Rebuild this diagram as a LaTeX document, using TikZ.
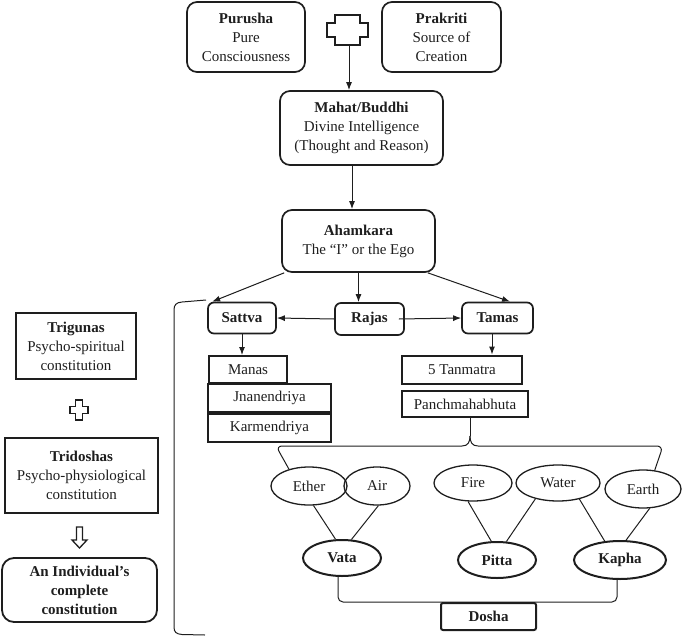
\documentclass[tikz,border=0pt]{standalone}
\usepackage{fontspec}
\setmainfont{Liberation Serif}
\usetikzlibrary{shapes.geometric,arrows.meta,calc}
\definecolor{ink}{HTML}{1E1E1E}
\begin{document}
\begin{tikzpicture}[x=1pt,y=-1pt,
  txt/.style={font=\fontsize{15}{19}\selectfont, align=center, inner sep=0pt, text=ink},
  rbox/.style={txt, draw=ink, line width=1.7pt, rounded corners=10pt},
  tbox/.style={txt, draw=ink, line width=1.7pt, rounded corners=6pt},
  sbox/.style={txt, draw=ink, line width=2pt},
  ell/.style={txt, draw=ink, ellipse, line width=1.3pt},
  bell/.style={txt, draw=ink, ellipse, line width=2pt, font=\fontsize{15}{19}\selectfont\bfseries},
  arr/.style={draw=ink, line width=1pt, -{Latex[length=8pt,width=6pt]}},
  ln/.style={draw=ink, line width=1pt},
  outl/.style={draw=ink, line width=1.3pt, line join=miter},
]
\useasboundingbox (0,0) rectangle (685,637);

% top row
\node[rbox, minimum width=118pt, minimum height=70pt] (purusha) at (246,37) {\textbf{Purusha}\\Pure\\Consciousness};
\node[rbox, minimum width=119pt, minimum height=70pt] (prakriti) at (441.5,37) {\textbf{Prakriti}\\Source of\\Creation};
\coordinate (plus) at (347.5,30);
\begin{scope}[shift={(plus)}]
  \draw[outl] (-12.5,-15) -- (12.5,-15) -- (12.5,-7) -- (20.5,-7) -- (20.5,7) -- (12.5,7) -- (12.5,15) -- (-12.5,15) -- (-12.5,7) -- (-20.5,7) -- (-20.5,-7) -- (-12.5,-7) -- cycle;
\end{scope}
\coordinate (plusbot) at (349,45);

\node[rbox, minimum width=163pt, minimum height=74pt] (mahat) at (361.5,128) {\textbf{Mahat/Buddhi}\\Divine Intelligence\\(Thought and Reason)};
\node[rbox, minimum width=153pt, minimum height=62pt] (ahamkara) at (358.5,241) {\textbf{Ahamkara}\\The “I” or the Ego};

\draw[arr] (plusbot) -- (plusbot |- mahat.north);
\draw[arr] ([xshift=-9.5pt]mahat.south) -- ([xshift=-9.5pt]mahat.south |- ahamkara.north);

% gunas
\node[tbox, minimum width=68pt, minimum height=31pt, font=\fontsize{15}{19}\selectfont\bfseries] (sattva) at (242,318) {Sattva};
\node[tbox, minimum width=69pt, minimum height=32pt, font=\fontsize{15}{19}\selectfont\bfseries] (rajas) at (369.5,319) {Rajas};
\node[tbox, minimum width=71pt, minimum height=31pt, font=\fontsize{15}{19}\selectfont\bfseries] (tamas) at (497.5,318) {Tamas};

\draw[arr] ([xshift=3pt]ahamkara.south west) -- ([xshift=5pt]sattva.north west);
\draw[arr] (ahamkara.south) -- (ahamkara.south |- rajas.north);
\draw[arr] ([xshift=-8pt]ahamkara.south east) -- ([xshift=12.5pt]tamas.north);
\draw[arr] (rajas.west) -- (sattva.east);
\draw[arr] ([xshift=-6pt]rajas.east) -- (tamas.west);

% sattva side
\node[sbox, minimum width=78pt, minimum height=27pt] (manas) at (248,369.5) {Manas};
\node[sbox, minimum width=123pt, minimum height=28pt] (jnan) at (269.5,398) {Jnanendriya};
\node[sbox, minimum width=123pt, minimum height=28pt] (karm) at (269.5,428) {Karmendriya};
\draw[arr] (sattva.south) -- (sattva.south |- manas.north);

% tamas side
\node[sbox, minimum width=120pt, minimum height=28pt] (tanmatra) at (462,369.5) {5 Tanmatra};
\node[sbox, minimum width=126pt, minimum height=26pt] (panch) at (465,404) {Panchmahabhuta};
\draw[arr] ([xshift=-5.5pt]tamas.south) -- ([xshift=-5.5pt]tamas.south |- tanmatra.north);

% elements
\node[ell, minimum width=76pt, minimum height=38pt] (ether) at (309,486) {Ether};
\node[ell, minimum width=66pt, minimum height=38pt] (air) at (377,486) {Air};
\node[ell, minimum width=78pt, minimum height=36pt] (fire) at (473,483) {Fire};
\node[ell, minimum width=84pt, minimum height=36pt] (water) at (558,483) {Water};
\node[ell, minimum width=76pt, minimum height=38pt] (earth) at (643,489) {Earth};

% brace from Panchmahabhuta
\coordinate (btip) at (470,436);
\draw[ln, rounded corners=6pt] (ether.140) -- (276,446) -- (462,446);
\draw[ln] (462,446) .. controls (468,446) and (470,442) .. (btip);
\draw[ln] (btip) .. controls (470,442) and (472,446) .. (478,446);
\draw[ln, rounded corners=6pt] (478,446) -- (663,446) -- (earth.58);
\draw[ln] (btip) -- (btip |- panch.south);

% doshas
\node[bell, minimum width=78pt, minimum height=36pt] (vata) at (342,558) {Vata};
\node[bell, minimum width=78pt, minimum height=36pt] (pitta) at (497,560) {Pitta};
\node[bell, minimum width=92pt, minimum height=38pt] (kapha) at (620,560) {Kapha};

\draw[ln] (ether.-77) -- (vata.109);
\draw[ln] (air.-86) -- (vata.63);
\draw[ln] (fire.-105) -- (pitta.107);
\draw[ln] (water.-145) -- (pitta.63);
\draw[ln] (water.-37) -- (kapha.129);
\draw[ln] (earth.-71) -- (kapha.73);

\node[tbox, rounded corners=2pt, line width=2pt, minimum width=95pt, minimum height=27pt, font=\fontsize{15}{19}\selectfont\bfseries] (dosha) at (488.5,616.5) {Dosha};
\draw[ln, rounded corners=5pt] ([xshift=-4pt]vata.south) |- (dosha.north) -| ([xshift=-3pt]kapha.south);

% left column
\node[sbox, minimum width=120pt, minimum height=66pt] (trigunas) at (76,346) {\textbf{Trigunas}\\Psycho-spiritual\\constitution};
\node[sbox, minimum width=153pt, minimum height=75pt] (tridoshas) at (81.5,475.5) {\textbf{Tridoshas}\\Psycho-physiological\\constitution};
\node[rbox, line width=1.8pt, rounded corners=12pt, minimum width=155pt, minimum height=64pt, font=\fontsize{15}{19}\selectfont\bfseries] (individual) at (79.5,590) {An Individual’s\\complete\\constitution};

\coordinate (lplus) at (79,410);
\begin{scope}[shift={(lplus)}]
  \draw[outl] (-3.5,-10) -- (3.5,-10) -- (3.5,-3.5) -- (9,-3.5) -- (9,3.5) -- (3.5,3.5) -- (3.5,10) -- (-3.5,10) -- (-3.5,3.5) -- (-9,3.5) -- (-9,-3.5) -- (-3.5,-3.5) -- cycle;
\end{scope}
\coordinate (darr) at (79.5,527);
\begin{scope}[shift={(darr)}]
  \draw[outl] (-3,0) -- (3,0) -- (3,13) -- (7.5,13) -- (0,21) -- (-7.5,13) -- (-3,13) -- cycle;
\end{scope}

% big bracket
\coordinate (brtop) at (206,300);
\coordinate (brbot) at (205,635);
\draw[ln] (brtop) -- (182,302) .. controls (176,302.5) and (174,305) .. (174,310) -- (174,627) .. controls (174,632) and (176,634) .. (182,634.5) -- (brbot);
\end{tikzpicture}
\end{document}
